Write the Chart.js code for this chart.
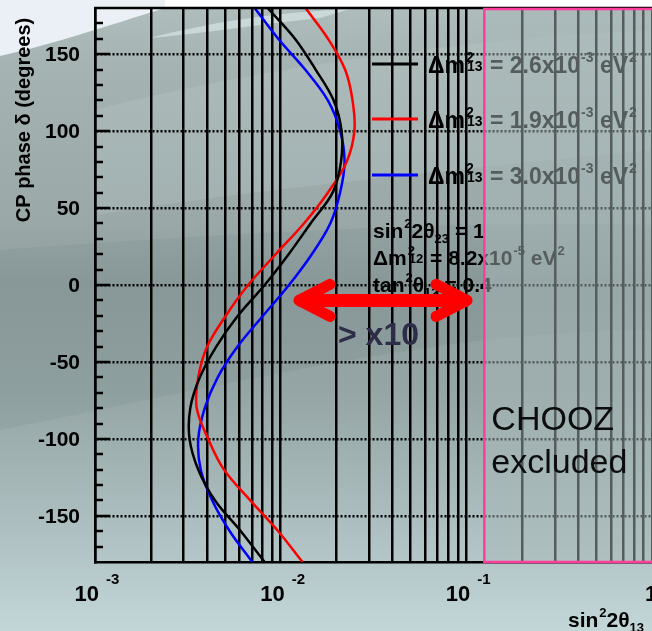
<!DOCTYPE html>
<html><head><meta charset="utf-8">
<script src="https://cdn.jsdelivr.net/npm/chart.js@4.4.1/dist/chart.umd.min.js"></script>
<style>html,body{margin:0;padding:0;background:#fff;overflow:hidden}#wrap{width:652px;height:631px;position:relative}</style>
</head><body><div id="wrap"><canvas id="c" width="652" height="631"></canvas></div>
<script>
// CP phase delta (degrees) at which each curve was read
const deltaCP = [180,160,140,120,100,80,60,40,20,0,-20,-40,-60,-80,-100,-120,-140,-160,-180];
// sin^2 2theta13 sensitivity for each Δm^2_13
const sens26 = [0.00851,0.01194,0.01542,0.01928,0.02128,0.02113,0.01905,0.01449,0.01104,0.0082,0.00588,0.0045,0.00367,0.00326,0.00323,0.0036,0.00443,0.0061,0.0082];
const sens19 = [0.01361,0.01799,0.02223,0.02438,0.02495,0.02265,0.01795,0.01334,0.0094,0.00668,0.00506,0.00402,0.0036,0.00353,0.00407,0.00495,0.00686,0.0097,0.01312];
const sens30 = [0.00724,0.0097,0.01355,0.01795,0.02094,0.02208,0.02089,0.0185,0.01472,0.01109,0.00803,0.00586,0.00458,0.0039,0.0036,0.00371,0.00428,0.00532,0.00703];
const seriesMantissa = ['2.6','1.9','3.0'];
const seriesColors = ['#000000','#ff0000','#0000ff'];
// axes
const xTickValues = [0.001,0.002,0.003,0.004,0.005,0.006,0.007,0.008,0.009,0.01,0.02,0.03,0.04,0.05,0.06,0.07,0.08,0.09,0.1,0.2,0.3,0.4,0.5,0.6,0.7,0.8,0.9,1];
const xLabelValues = [0.001,0.01,0.1,1];
const xLabelExp = ['-3','-2','-1',''];
const yTickValues = [150,100,50,0,-50,-100,-150];
const yTickLabels = ['150','100','50','0','-50','-100','-150'];
// annotations
const choozLimit = 0.125;
const arrowFrom = 0.01165, arrowTo = 0.1087, arrowDelta = -10;

const FONT = '"Liberation Sans", Arial, sans-serif';
function mkData(xs){ return xs.map((x,i)=>({x:x,y:deltaCP[i]})); }

function rich(ctx, x, y, parts, size){
  let cx = x;
  ctx.textAlign='left'; ctx.textBaseline='alphabetic';
  for (const [t,k] of parts){
    if (k==='n'){
      ctx.font = `bold ${size}px ${FONT}`;
      ctx.fillText(t,cx,y); cx += ctx.measureText(t).width;
    } else if (k==='sup'){
      const s=Math.round(size*0.62);
      ctx.font = `bold ${s}px ${FONT}`;
      ctx.fillText(t,cx+1,y-size*0.5); cx += ctx.measureText(t).width+1;
    } else if (k==='sub'){
      const s=Math.round(size*0.62);
      ctx.font = `bold ${s}px ${FONT}`;
      ctx.fillText(t,cx,y+size*0.25); cx += ctx.measureText(t).width;
    } else if (k==='ss'){
      const s=Math.round(size*0.62);
      ctx.font = `bold ${s}px ${FONT}`;
      ctx.fillText(t[0],cx+1,y-size*0.5);
      const w1=ctx.measureText(t[0]).width;
      ctx.fillText(t[1],cx+2,y-size*0.08);
      const w2=ctx.measureText(t[1]).width;
      cx += Math.max(w1,w2)+3;
    }
  }
  return cx;
}

const bgPlugin = {
  id:'bg',
  beforeDraw(chart){
    const {ctx,width:W,height:H} = chart;
    ctx.save();
    const g = ctx.createLinearGradient(0,0,0,H);
    g.addColorStop(0,'#b0bebe');
    g.addColorStop(0.1,'#a6b3b3');
    g.addColorStop(0.35,'#9aa8a8');
    g.addColorStop(0.45,'#8f9d9d');
    g.addColorStop(0.62,'#95a5a5');
    g.addColorStop(0.82,'#abbdbe');
    g.addColorStop(1,'#c3d6d8');
    ctx.fillStyle=g; ctx.fillRect(0,0,W,H);
    // darker band
    ctx.fillStyle='rgba(40,60,60,0.06)';
    ctx.beginPath(); ctx.moveTo(0,250); ctx.bezierCurveTo(200,235,450,220,652,225);
    ctx.lineTo(652,330); ctx.bezierCurveTo(450,330,250,380,0,430); ctx.closePath(); ctx.fill();
    // lighter band at upper part
    ctx.fillStyle='rgba(220,235,235,0.12)';
    ctx.beginPath(); ctx.moveTo(95,110); ctx.bezierCurveTo(250,70,450,40,652,30);
    ctx.lineTo(652,150); ctx.bezierCurveTo(450,170,250,190,95,215); ctx.closePath(); ctx.fill();
    // light sheen at top
    ctx.fillStyle='rgba(225,240,240,0.55)';
    ctx.beginPath(); ctx.moveTo(150,38); ctx.bezierCurveTo(210,22,280,12,350,9);
    ctx.lineTo(320,18); ctx.bezierCurveTo(260,24,200,34,150,38); ctx.closePath(); ctx.fill();
    // top-left pale area
    ctx.fillStyle='#eaf0f6';
    ctx.beginPath(); ctx.moveTo(0,0); ctx.lineTo(165,0); ctx.lineTo(165,8);
    ctx.bezierCurveTo(110,25,50,45,0,56); ctx.closePath(); ctx.fill();
    ctx.fillStyle='#ffffff'; ctx.fillRect(165,0,W-165,7);
    ctx.restore();
  }
};

const annoPlugin = {
  id:'anno',
  afterDraw(chart){
    const {ctx, chartArea:a} = chart;
    const xs = chart.scales.x, ys = chart.scales.y;
    ctx.save();
    // top border
    ctx.strokeStyle='#000'; ctx.lineWidth=2.5;
    ctx.beginPath(); ctx.moveTo(a.left-1,a.top); ctx.lineTo(a.right,a.top); ctx.stroke();
    // left inward ticks
    ctx.lineWidth=2.5;
    for (let v=-170; v<=170; v+=10){
      const py = Math.round(ys.getPixelForValue(v));
      const len = (v%50===0)?15:8;
      ctx.beginPath(); ctx.moveTo(a.left,py); ctx.lineTo(a.left+len,py); ctx.stroke();
    }
    // y tick labels
    ctx.fillStyle='#000'; ctx.font=`bold 21px ${FONT}`; ctx.textAlign='right'; ctx.textBaseline='middle';
    yTickValues.forEach((v,i)=>{ ctx.fillText(yTickLabels[i], 80, ys.getPixelForValue(v)+1); });
    // x tick labels
    xLabelValues.forEach((v,i)=>{
      const px = xs.getPixelForValue(v);
      ctx.textBaseline='alphabetic';
      if (xLabelExp[i]){
        ctx.font=`bold 22px ${FONT}`; ctx.textAlign='right'; ctx.fillText('10', px+4, 601);
        ctx.font=`bold 15px ${FONT}`; ctx.textAlign='left'; ctx.fillText(xLabelExp[i], px+11, 584);
      } else {
        ctx.font=`bold 22px ${FONT}`; ctx.textAlign='left'; ctx.fillText('1', px-7, 601);
      }
    });
    // axis titles
    ctx.fillStyle='#000';
    rich(ctx, 568, 627, [['sin','n'],['2','sup'],['2θ','n'],['13','sub']], 21);
    ctx.save(); ctx.translate(24,120); ctx.rotate(-Math.PI/2);
    ctx.font=`bold 20px ${FONT}`; ctx.textAlign='center'; ctx.textBaseline='middle';
    ctx.fillText('CP phase δ (degrees)',0,0); ctx.restore();
    // legend
    const legY = [64,119,175];
    for (let i=0;i<3;i++){
      ctx.strokeStyle=seriesColors[i]; ctx.lineWidth=3;
      ctx.beginPath(); ctx.moveTo(372,legY[i]); ctx.lineTo(418,legY[i]); ctx.stroke();
      ctx.fillStyle='#000';
      rich(ctx, 428, legY[i]+9, [['Δm','n'],[['2','13'],'ss'],[' = '+seriesMantissa[i]+'x10','n'],['-3','sup'],[' eV','n'],['2','sup']], 23);
    }
    // parameters
    ctx.fillStyle='#000';
    rich(ctx, 373, 238, [['sin','n'],['2','sup'],['2θ','n'],['23','sub'],[' = 1','n']], 21);
    rich(ctx, 373, 265, [['Δm','n'],[['2','12'],'ss'],[' = 8.2x10','n'],['-5','sup'],[' eV','n'],['2','sup']], 21);
    rich(ctx, 373, 292, [['tan','n'],['2','sup'],['θ','n'],['12','sub'],[' = 0.4','n']], 21);
    // CHOOZ excluded region
    const rx = xs.getPixelForValue(choozLimit);
    ctx.fillStyle='rgba(168,184,184,0.5)';
    ctx.fillRect(rx, a.top, a.right-rx, a.bottom-a.top);
    ctx.strokeStyle='#ff3d9a'; ctx.lineWidth=2.5;
    ctx.beginPath(); ctx.moveTo(a.right+2, a.top+1); ctx.lineTo(rx, a.top+1); ctx.lineTo(rx, a.bottom); ctx.lineTo(a.right+2, a.bottom); ctx.stroke();
    ctx.fillStyle='#0c0c0c';
    ctx.font=`34px ${FONT}`; ctx.textAlign='left'; ctx.textBaseline='alphabetic';
    ctx.fillText('CHOOZ', rx+7, 430);
    ctx.fillText('excluded', rx+7, 473);
    // arrow
    const ax1 = xs.getPixelForValue(arrowFrom), ax2 = xs.getPixelForValue(arrowTo), ay = ys.getPixelForValue(arrowDelta);
    ctx.strokeStyle='#ff0000'; ctx.lineCap='round'; ctx.lineJoin='round';
    ctx.lineWidth=13;
    ctx.beginPath(); ctx.moveTo(ax1+8,ay); ctx.lineTo(ax2-8,ay); ctx.stroke();
    ctx.lineWidth=11;
    ctx.beginPath(); ctx.moveTo(ax1+37,ay-16); ctx.lineTo(ax1+6,ay); ctx.lineTo(ax1+37,ay+16); ctx.stroke();
    ctx.beginPath(); ctx.moveTo(ax2-37,ay-16); ctx.lineTo(ax2-6,ay); ctx.lineTo(ax2-37,ay+16); ctx.stroke();
    ctx.fillStyle='#2d2d4a'; ctx.font=`bold 32px ${FONT}`; ctx.textAlign='left';
    ctx.fillText('> x10', 338, 345);
    ctx.restore();
  }
};

new Chart(document.getElementById('c'), {
  type:'scatter',
  data:{ datasets:[
    {label:'Δm²13 = 2.6x10⁻³ eV²', data:mkData(sens26), borderColor:seriesColors[0]},
    {label:'Δm²13 = 1.9x10⁻³ eV²', data:mkData(sens19), borderColor:seriesColors[1]},
    {label:'Δm²13 = 3.0x10⁻³ eV²', data:mkData(sens30), borderColor:seriesColors[2]}
  ].map(d=>Object.assign(d,{showLine:true,pointRadius:0,borderWidth:2.5,tension:0.35,fill:false}))},
  options:{
    responsive:false, animation:false, devicePixelRatio:1,
    layout:{padding:{left:95,top:8,right:0,bottom:69}},
    plugins:{legend:{display:false},tooltip:{enabled:false}},
    scales:{
      x:{type:'logarithmic', min:0.001, max:1,
         afterBuildTicks:(s)=>{ s.ticks = xTickValues.map(v=>({value:v})); },
         ticks:{display:false}, grid:{color:'#000',lineWidth:2.5,drawTicks:false},
         border:{display:true,color:'#000',width:2.5}},
      y:{type:'linear', min:-180, max:180,
         afterBuildTicks:(s)=>{ s.ticks = yTickValues.map(v=>({value:v})); },
         ticks:{display:false}, grid:{color:'#000',lineWidth:2.5,drawTicks:false},
         border:{display:true,color:'#000',width:2.5,dash:[2,2]}}
    }
  },
  plugins:[bgPlugin, annoPlugin]
});
</script></body></html>
